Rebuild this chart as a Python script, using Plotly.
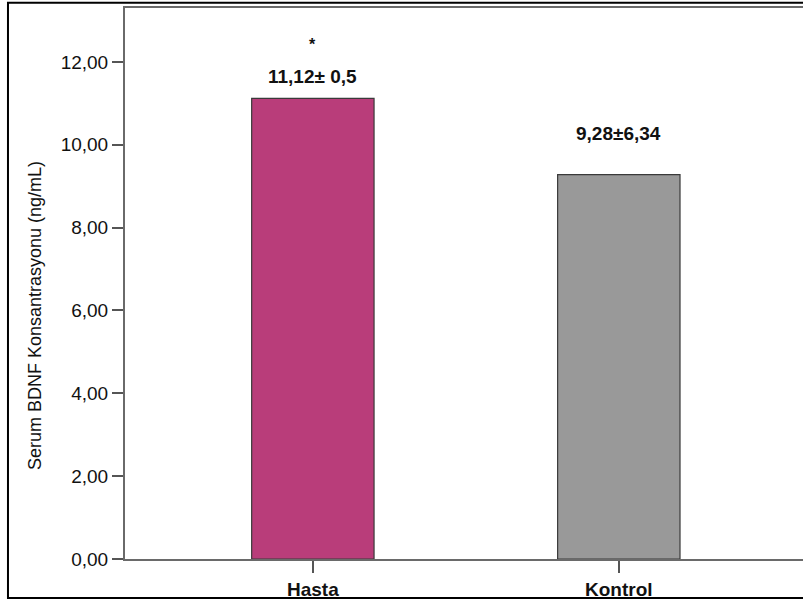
import plotly.graph_objects as go

categories = ["Hasta", "Kontrol"]
means = [11.12, 9.28]
labels = ["11,12± 0,5", "9,28±6,34"]
label_offsets = [22, 41]
significance = ["*", ""]
bar_colors = ["#B93D7A", "#999999"]
y_ticks = [0, 2, 4, 6, 8, 10, 12]
y_tick_text = ["0,00", "2,00", "4,00", "6,00", "8,00", "10,00", "12,00"]

fig = go.Figure()
fig.add_trace(go.Bar(
    x=categories, y=means, width=0.40,
    marker=dict(color=bar_colors, line=dict(color="#3a3a3a", width=1.2)),
    hoverinfo="skip",
))

ann = []
for c, v, t, off, s in zip(categories, means, labels, label_offsets, significance):
    ann.append(dict(x=c, y=v, text="<b>" + t + "</b>", showarrow=False, yanchor="middle",
                    yshift=off, font=dict(family="Liberation Sans", size=19, color="#111")))
    if s:
        ann.append(dict(x=c, y=v, text="<b>" + s + "</b>", showarrow=False, yanchor="middle",
                        yshift=54, font=dict(family="Liberation Sans", size=16, color="#111")))
ann.append(dict(xref="paper", yref="paper", x=-0.1327, y=0.441, text="Serum BDNF Konsantrasyonu (ng/mL)",
                textangle=-90, showarrow=False, xanchor="center", yanchor="middle",
                font=dict(family="Liberation Sans", size=18, color="#111")))

fig.update_layout(
    width=803, height=603,
    margin=dict(l=125, r=0, t=8, b=44),
    paper_bgcolor="white", plot_bgcolor="white",
    showlegend=False,
    annotations=ann,
    shapes=[dict(type="rect", xref="paper", yref="paper", x0=-0.1726, x1=1.05, y0=-0.0708, y1=1.0095,
                 line=dict(color="black", width=2), layer="above")],
    xaxis=dict(range=[-0.614, 1.602], showgrid=False, showline=True, linecolor="#6a6a6a", linewidth=2,
               mirror=True, ticks="outside", ticklen=12, tickcolor="#555", tickwidth=1.5,
               tickfont=dict(family="Liberation Sans", size=19, color="#111", weight="bold"), fixedrange=True),
    yaxis=dict(range=[0, 13.30], showgrid=False, showline=True, linecolor="#6a6a6a", linewidth=2,
               ticks="outside", ticklen=11, tickcolor="#555", tickwidth=1.5,
               tickvals=y_ticks, ticktext=y_tick_text, zeroline=False,
               tickfont=dict(family="Liberation Sans", size=19, color="#111")),
)

fig.write_html("out.html")
